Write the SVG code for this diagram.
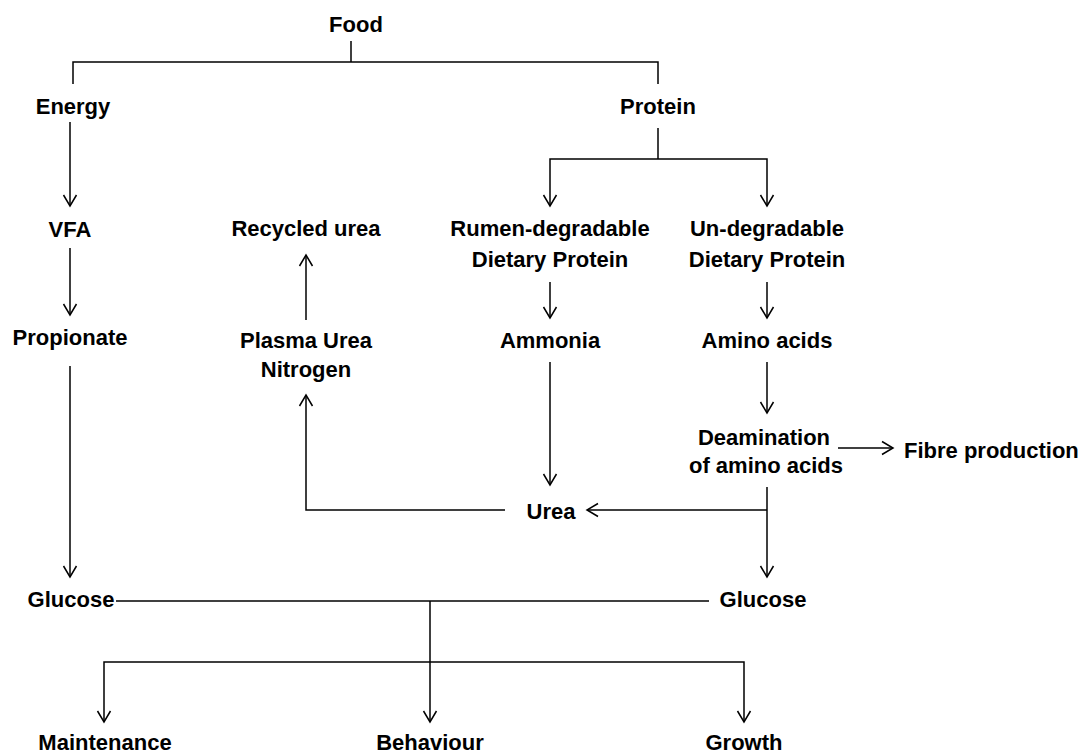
<svg xmlns="http://www.w3.org/2000/svg" width="1082" height="755" viewBox="0 0 1082 755">
<style>
text{font-family:"Liberation Sans",Arial,sans-serif;font-weight:bold;font-size:22px;fill:#000;text-anchor:middle}
.c path{fill:none;stroke:#000;stroke-width:1.5}
.a{marker-end:url(#arr)}
</style>
<defs>
<marker id="arr" markerUnits="userSpaceOnUse" markerWidth="20" markerHeight="20" viewBox="-14 -10 20 20" refX="0" refY="0" orient="auto">
<path d="M-11,-6.5 L0,0 L-11,6.5" fill="none" stroke="#000" stroke-width="1.5"/>
</marker>
</defs>
<rect width="1082" height="755" fill="#fff"/>
<g class="c" id="connectors">
<path d="M351,41 V62"/>
<path d="M73,84 V62 H658 V84"/>
<path class="a" d="M70,122 V206"/>
<path class="a" d="M70,248 V315"/>
<path class="a" d="M70,366 V577"/>
<path d="M658,128 V159"/>
<path class="a" d="M658,159 H550 V206"/>
<path class="a" d="M658,159 H767 V206"/>
<path class="a" d="M550,282 V318"/>
<path class="a" d="M767,282 V318"/>
<path class="a" d="M767,362 V413"/>
<path class="a" d="M838,448 H893"/>
<path class="a" d="M767,487 V577"/>
<path class="a" d="M767,510 H587"/>
<path class="a" d="M550,362 V485"/>
<path class="a" d="M505,510 H306 V395"/>
<path class="a" d="M306,320 V255"/>
<path d="M116,601 H709"/>
<path class="a" d="M430,601 V722"/>
<path class="a" d="M430,662 H104 V722"/>
<path class="a" d="M430,662 H744 V722"/>
</g>
<g id="food"><text x="356" y="32">Food</text></g>
<g id="energy"><text x="73" y="114">Energy</text></g>
<g id="protein"><text x="658" y="114">Protein</text></g>
<g id="vfa"><text x="70" y="237">VFA</text></g>
<g id="recycled"><text x="306" y="236">Recycled urea</text></g>
<g id="rdp"><text x="550" y="236">Rumen-degradable</text><text x="550" y="267">Dietary Protein</text></g>
<g id="udp"><text x="767" y="236">Un-degradable</text><text x="767" y="267">Dietary Protein</text></g>
<g id="propionate"><text x="70" y="345">Propionate</text></g>
<g id="pun"><text x="306" y="348">Plasma Urea</text><text x="306" y="377">Nitrogen</text></g>
<g id="ammonia"><text x="550" y="348">Ammonia</text></g>
<g id="amino"><text x="767" y="348">Amino acids</text></g>
<g id="deam"><text x="764" y="445">Deamination</text><text x="766" y="473">of amino acids</text></g>
<g id="fibre"><text x="904" y="458" style="text-anchor:start">Fibre production</text></g>
<g id="urea"><text x="551" y="519">Urea</text></g>
<g id="glucose1"><text x="71" y="607">Glucose</text></g>
<g id="glucose2"><text x="763" y="607">Glucose</text></g>
<g id="maintenance"><text x="105" y="750">Maintenance</text></g>
<g id="behaviour"><text x="430" y="750">Behaviour</text></g>
<g id="growth"><text x="744" y="750">Growth</text></g>
</svg>
